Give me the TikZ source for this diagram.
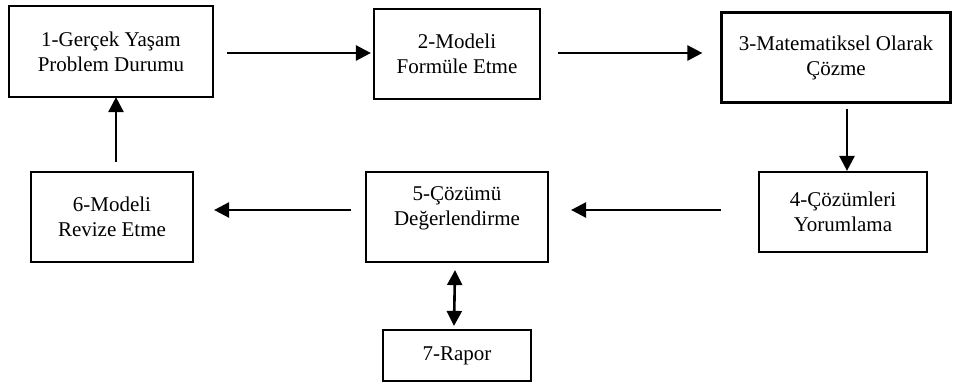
\documentclass[tikz,border=0pt]{standalone}
\usepackage{fontspec}
\setmainfont{Liberation Serif}
\usetikzlibrary{arrows.meta,calc}
\tikzset{
  box/.style={draw=black, line width=2.2pt, rectangle, inner sep=0pt, align=center,
    font=\fontsize{21pt}{25pt}\selectfont},
  lbl/.style={inner sep=0pt, align=center, font=\fontsize{21pt}{25pt}\selectfont},
  conn/.style={line width=2.6pt, -{Triangle[length=15pt,width=15pt]}},
  conn2/.style={line width=2.6pt, {Triangle[length=15pt,width=15pt]}-{Triangle[length=15pt,width=15pt]}}
}
\begin{document}
\begin{tikzpicture}[x=1pt,y=-1pt]
\useasboundingbox[fill=white] (0,0) rectangle (954,385);
\node[box, minimum width=204pt, minimum height=91pt] (b1) at (111,51.5) {1-Gerçek Yaşam\\Problem Durumu};
\node[box, minimum width=166pt, minimum height=90pt] (b2) at (457,54) {2-Modeli\\Formüle Etme};
\node[box, minimum width=229pt, minimum height=90pt] (b3) at (836,57.5) {3-Matematiksel Olarak\\Çözme};
\node[box, minimum width=168pt, minimum height=80pt] (b4) at (843,212) {4-Çözümleri\\Yorumlama};
\node[box, minimum width=182pt, minimum height=90pt] (b5) at (457,217) {};
\node[lbl] (b5t) at (457,208.5) {5-Çözümü\\Değerlendirme};
\node[box, minimum width=162pt, minimum height=90pt] (b6) at (112,217) {6-Modeli\\Revize Etme};
\node[box, minimum width=148pt, minimum height=51pt] (b7) at (457,355.5) {7-Rapor};
% connectors
\draw[conn] ($(b1.east)+(13,1.5)$) -- ($(b2.west)+(-2,-1)$);
\draw[conn] ($(b2.east)+(17,-1)$) -- ($(b3.west)+(-18,-4.5)$);
\draw[conn] ($(b3.south)+(11,5)$) -- ($(b4.north)+(4,0)$);
\draw[conn] ($(b4.west)+(-37,-2)$) -- ($(b5.east)+(22,-7)$);
\draw[conn] ($(b5.west)+(-14,-7)$) -- ($(b6.east)+(20,-7)$);
\draw[conn] ($(b6.north)+(4,-9)$) -- ($(b1.south)+(5,-1)$);
\draw[conn2] ($(b5.south)+(-2,7)$) -- ($(b7.north)+(-3,-3)$);
\end{tikzpicture}
\end{document}
